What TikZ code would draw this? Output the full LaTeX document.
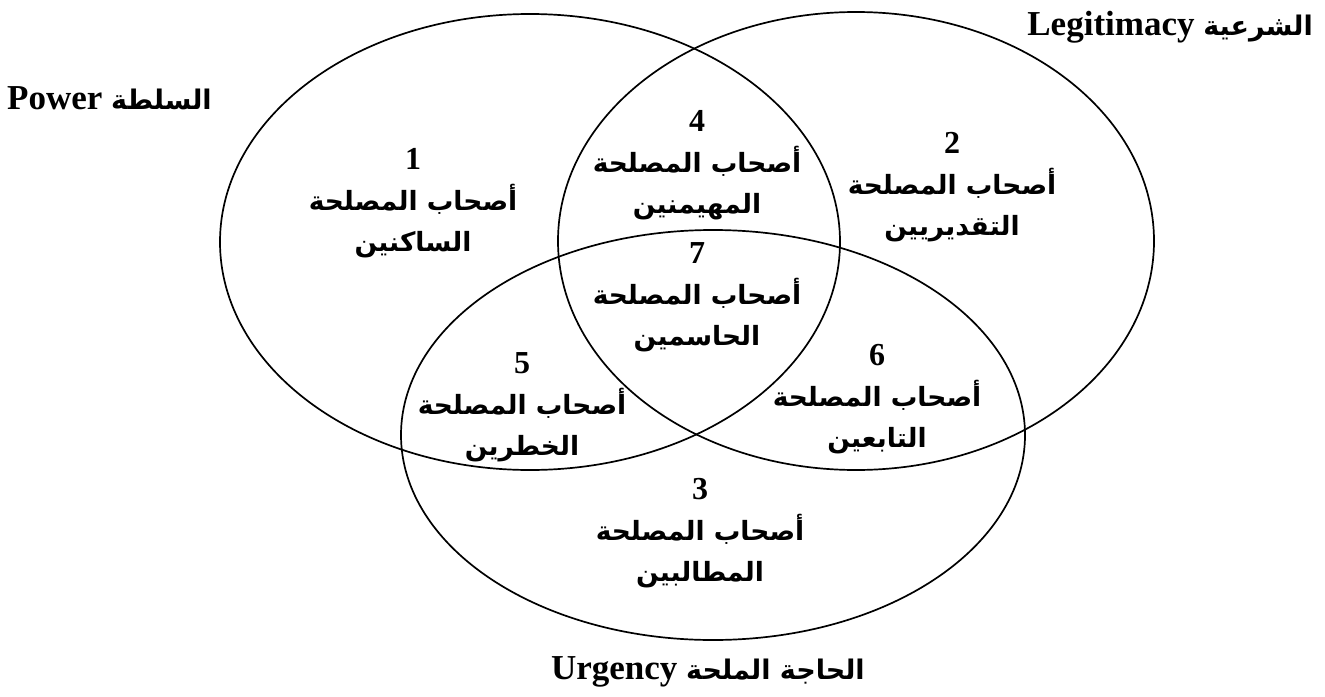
\documentclass[tikz,border=0pt]{standalone}
\usepackage{fontspec}
\setmainfont{Liberation Serif}
\newfontfamily\arabicfont[Script=Arabic]{DejaVu Sans}
\TeXXeTstate=1
\newcommand{\artxt}[1]{{\arabicfont\bfseries\beginR #1\endR}}
\newcommand{\lbltxt}[1]{{\fontsize{27}{30}\selectfont\artxt{#1}}}
\newcommand{\nm}[1]{{\fontsize{32}{41}\selectfont #1}}
\begin{document}
\begin{tikzpicture}[x=1pt,y=-1pt,
  ring/.style={draw, line width=1.7pt},
  region/.style={align=center, inner sep=0pt, font=\bfseries\fontsize{26.5}{41}\selectfont},
  setlabel/.style={inner sep=0pt, anchor=east, font=\bfseries\fontsize{35}{38}\selectfont}]
\useasboundingbox (0,0) rectangle (1325,696);

% the three stakeholder attributes
\draw[ring] (530,242) ellipse [x radius=310pt, y radius=228pt];
\draw[ring] (856,241) ellipse [x radius=298pt, y radius=229pt];
\draw[ring] (713,435) ellipse [x radius=312pt, y radius=205pt];

% attribute names
\node[setlabel, anchor=west] (power) at (7,98) {Power \lbltxt{السلطة}};
\node[setlabel] (legit) at (1313,27) {Legitimacy \lbltxt{الشرعية}};
\node[setlabel] (urg) at (865,672) {Urgency \lbltxt{الحاجة الملحة}};

% stakeholder classes
\node[region] (r1) at (413,203) {\nm{1}\\\artxt{أصحاب المصلحة}\\\artxt{الساكنين}};
\node[region] (r2) at (952,187) {\nm{2}\\\artxt{أصحاب المصلحة}\\\artxt{التقديريين}};
\node[region] (r3) at (700,533) {\nm{3}\\\artxt{أصحاب المصلحة}\\\artxt{المطالبين}};
\node[region] (r4) at (697,165) {\nm{4}\\\artxt{أصحاب المصلحة}\\\artxt{المهيمنين}};
\node[region] (r5) at (522,407) {\nm{5}\\\artxt{أصحاب المصلحة}\\\artxt{الخطرين}};
\node[region] (r6) at (877,399) {\nm{6}\\\artxt{أصحاب المصلحة}\\\artxt{التابعين}};
\node[region] (r7) at (697,297) {\nm{7}\\\artxt{أصحاب المصلحة}\\\artxt{الحاسمين}};
\end{tikzpicture}
\end{document}
